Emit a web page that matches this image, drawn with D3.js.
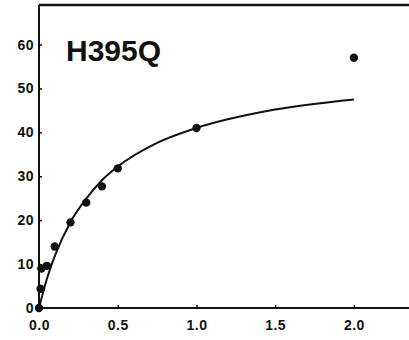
<!DOCTYPE html>
<html>
<head>
<meta charset="utf-8">
<script src="https://cdn.jsdelivr.net/npm/d3@7"></script>
<style>
  body { margin: 0; background: #fff; }
  svg text { font-family: "Liberation Sans", Arial, sans-serif; font-weight: bold; fill: #111; }
</style>
</head>
<body>
<svg id="chart" width="409" height="340"></svg>
<script>
// Measured points
const pointX = [0, 0.01, 0.015, 0.05, 0.1, 0.2, 0.3, 0.4, 0.5, 1.0, 2.0];
const pointY = [0, 4.4, 9.0, 9.6, 14, 19.5, 24, 27.7, 31.8, 41, 57];

// Fitted curve
const curveX = [0, 0.05, 0.1, 0.2, 0.3, 0.4, 0.5, 0.75, 1.0, 1.5, 2.0];
const curveY = [0, 6.6, 11.8, 19.6, 24.9, 29.1, 32.2, 37.6, 41, 45.2, 47.5];

const xTicks = [0, 0.5, 1.0, 1.5, 2.0];
const yTicks = [0, 10, 20, 30, 40, 50, 60];
const label = "H395Q";

const svg = d3.select("#chart");

// Set up scales
const x = d3.scaleLinear().domain([0, 2.35]).range([39, 409]);
const y = d3.scaleLinear().domain([0, 69]).range([308, 5]);

// Frame: top line and left axis
svg.append("line")
  .attr("x1", x(0)).attr("x2", 409)
  .attr("y1", y(69)).attr("y2", y(69))
  .attr("stroke", "#111").attr("stroke-width", 2.5);

const xAxis = svg.append("g")
  .attr("transform", `translate(0,${y(0)})`)
  .call(d3.axisBottom(x).tickValues(xTicks).tickFormat(d3.format(".1f")).tickSizeInner(-3).tickSizeOuter(0).tickPadding(12));

const yAxis = svg.append("g")
  .attr("transform", `translate(${x(0)},0)`)
  .call(d3.axisLeft(y).tickValues(yTicks).tickSizeInner(-3).tickSizeOuter(0).tickPadding(5));

[xAxis, yAxis].forEach(g => {
  g.select(".domain").attr("stroke", "#111").attr("stroke-width", 2);
  g.selectAll(".tick line").attr("stroke", "#111").attr("stroke-width", 1.5);
  g.selectAll(".tick text").attr("font-size", 14).style("font-family", "Liberation Sans, Arial, sans-serif").style("font-weight", "bold").style("letter-spacing", "0.5px").attr("fill", "#111");
});
xAxis.select(".domain").attr("d", `M${x(0)},0H409`);
yAxis.select(".domain").attr("d", `M0,${y(69)}V${y(0)}`);

// Fitted curve
const line = d3.line()
  .x((d, i) => x(curveX[i]))
  .y(d => y(d))
  .curve(d3.curveMonotoneX);

svg.append("path")
  .datum(curveY)
  .attr("d", line)
  .attr("fill", "none")
  .attr("stroke", "#111")
  .attr("stroke-width", 2);

// Data points
svg.selectAll("circle.pt")
  .data(pointY)
  .enter().append("circle")
    .attr("class", "pt")
    .attr("cx", (d, i) => x(pointX[i]))
    .attr("cy", d => y(d))
    .attr("r", 4.2)
    .attr("fill", "#111");

// Panel label
svg.append("text")
  .attr("x", 66)
  .attr("y", 61)
  .attr("font-size", 30)
  .text(label);
</script>
</body>
</html>
